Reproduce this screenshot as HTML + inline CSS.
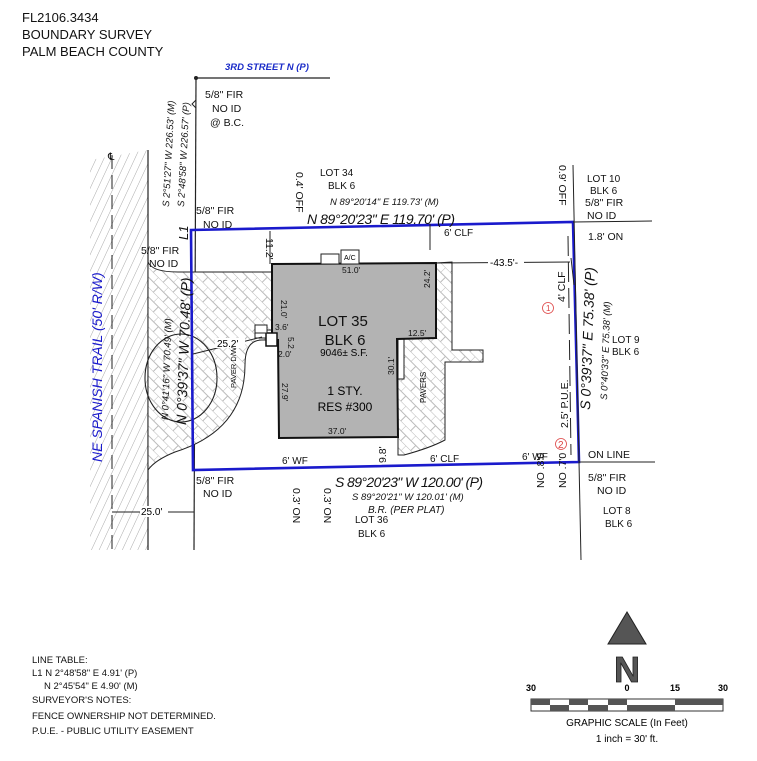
<!DOCTYPE html>
<html><head><meta charset="utf-8"><style>
html,body{margin:0;padding:0;background:#fff;}
svg{display:block;font-family:"Liberation Sans",Arial,sans-serif;}
</style></head><body>
<svg width="757" height="761" viewBox="0 0 757 761" xmlns="http://www.w3.org/2000/svg">
<defs>
<pattern id="diag" width="7" height="7" patternUnits="userSpaceOnUse" patternTransform="rotate(25)">
<line x1="0" y1="0" x2="0" y2="7" stroke="#aaa" stroke-width="1"/>
</pattern>
<pattern id="brick" width="14" height="14" patternUnits="userSpaceOnUse" patternTransform="rotate(45)">
<rect width="14" height="14" fill="#fff"/>
<path d="M0 0H14M0 7H14M0 0V7M7 7V14" stroke="#bbb" stroke-width="1" fill="none"/>
</pattern>
</defs>
<rect width="757" height="761" fill="#fff"/>

<g font-size="13" fill="#111">
<text x="22" y="22">FL2106.3434</text>
<text x="22" y="39">BOUNDARY SURVEY</text>
<text x="22" y="56">PALM BEACH COUNTY</text>
</g>
<text x="225" y="70" font-size="9.5" font-weight="bold" font-style="italic" fill="#1a2bc8">3RD STREET N (P)</text>
<line x1="196" y1="78" x2="330" y2="78" stroke="#222" stroke-width="1.2"/>
<circle cx="196" cy="78" r="2" fill="#222"/>

<path d="M90 160 L148 150 L148 550 L90 550 Z" fill="url(#diag)"/>
<line x1="148" y1="150" x2="148" y2="550" stroke="#222" stroke-width="1.2"/>
<line x1="112" y1="155" x2="112" y2="550" stroke="#222" stroke-width="1" stroke-dasharray="14 6"/>
<text x="108" y="160" font-size="10">℄</text>
<line x1="196" y1="78" x2="194" y2="550" stroke="#222" stroke-width="1.2"/>
<path d="M196 100 l-4 4 l4 4" fill="none" stroke="#222"/>

<path d="M148 262 Q152 272 178 272 L272 272 L272 330 L255 330 L255 338 L272 338 L272 340 L262 340 Q245 340 245 365 Q245 430 175 452 Q155 460 148 470 Z" fill="url(#brick)" stroke="#222" stroke-width="1"/>
<ellipse cx="181" cy="378" rx="36" ry="44" fill="none" stroke="#222" stroke-width="1.1"/>
<path d="M436 263 L452 262 L452 350 L483 350 L483 362 L445 362 L445 440 Q430 448 404 455 L398 455 L398 339 L436 338 Z" fill="url(#brick)" stroke="#222" stroke-width="1"/>
<rect x="398" y="339" width="6" height="40" fill="#fff" stroke="#222"/>

<path d="M272 264 L436 263 L436 338 L397 339 L398 437 L279 438 L278 340 L272 340 Z" fill="#b3b3b3" stroke="#111" stroke-width="2"/>
<rect x="321" y="254" width="18" height="10" fill="#fff" stroke="#222"/>
<rect x="341" y="250" width="18" height="14" fill="#fff" stroke="#222"/>
<text x="344" y="260" font-size="7">A/C</text>
<rect x="266" y="333" width="11" height="13" fill="#fff" stroke="#111" stroke-width="1.5"/>
<rect x="255" y="325" width="12" height="8" fill="#fff" stroke="#222"/>

<path d="M191 230 L573 222 L579 462 L193 470 Z" fill="none" stroke="#1a1acc" stroke-width="2.6"/>
<line x1="573" y1="165" x2="581" y2="560" stroke="#222" stroke-width="1"/>
<line x1="573" y1="222" x2="652" y2="221" stroke="#222"/>
<line x1="579" y1="462" x2="655" y2="462" stroke="#222"/>
<line x1="430" y1="224" x2="430" y2="250" stroke="#222"/>
<line x1="568" y1="236" x2="571" y2="455" stroke="#222" stroke-dasharray="20 6"/>
<line x1="571" y1="258" x2="574" y2="285" stroke="#222"/>

<line x1="436" y1="263" x2="570" y2="262" stroke="#222"/>
<rect x="488" y="257" width="36" height="10" fill="#fff"/>
<text x="490" y="266" font-size="10">-43.5'-</text>
<line x1="193" y1="354" x2="262" y2="337" stroke="#222"/>
<rect x="215" y="338" width="30" height="10" fill="#fff"/>
<text x="217" y="347" font-size="10">25.2'</text>
<line x1="112" y1="512" x2="194" y2="512" stroke="#222"/>
<rect x="140" y="506" width="28" height="11" fill="#fff"/>
<text x="141" y="515" font-size="10">25.0'</text>
<line x1="270" y1="231" x2="270" y2="264" stroke="#222"/>

<g font-size="10.5" fill="#111">
<text x="205" y="98">5/8"  FIR</text>
<text x="212" y="112">NO ID</text>
<text x="210" y="126">@ B.C.</text>
<text x="196" y="214">5/8"  FIR</text>
<text x="203" y="228">NO ID</text>
<text x="141" y="254">5/8" FIR</text>
<text x="149" y="267">NO ID</text>
<text x="320" y="176" font-size="10">LOT 34</text>
<text x="328" y="189" font-size="10">BLK 6</text>
<text x="587" y="182" font-size="10">LOT 10</text>
<text x="590" y="194" font-size="10">BLK 6</text>
<text x="585" y="206">5/8" FIR</text>
<text x="587" y="219">NO ID</text>
<text x="588" y="240">1.8' ON</text>
<text x="612" y="343" font-size="10">LOT 9</text>
<text x="612" y="355" font-size="10">BLK 6</text>
<text x="588" y="458">ON LINE</text>
<text x="588" y="481">5/8"  FIR</text>
<text x="597" y="494">NO ID</text>
<text x="603" y="514" font-size="10">LOT 8</text>
<text x="605" y="527" font-size="10">BLK 6</text>
<text x="196" y="484">5/8"  FIR</text>
<text x="203" y="497">NO ID</text>
<text x="355" y="523" font-size="10">LOT 36</text>
<text x="358" y="537" font-size="10">BLK 6</text>
<text x="444" y="236" font-size="10">6' CLF</text>
<text x="430" y="462" font-size="10">6' CLF</text>
<text x="522" y="460" font-size="10">6' WF</text>
<text x="282" y="464" font-size="10">6' WF</text>
</g>
<text x="307" y="224" font-size="14" font-style="italic" fill="#111" textLength="148">N 89°20'23" E  119.70' (P)</text>
<text x="330" y="205" font-size="9.5" font-style="italic" fill="#111">N 89°20'14" E  119.73' (M)</text>
<text x="335" y="487" font-size="14" font-style="italic" fill="#111" textLength="148">S 89°20'23" W  120.00' (P)</text>
<text x="352" y="500" font-size="9.5" font-style="italic" fill="#111">S 89°20'21" W  120.01' (M)</text>
<text x="368" y="513" font-size="10" font-style="italic" fill="#111">B.R. (PER PLAT)</text>

<g font-size="15" text-anchor="middle" fill="#111">
<text x="343" y="326">LOT 35</text>
<text x="345" y="345">BLK 6</text>
</g>
<text x="344" y="356" font-size="10" text-anchor="middle">9046± S.F.</text>
<text x="345" y="395" font-size="12" text-anchor="middle">1 STY.</text>
<text x="345" y="411" font-size="12" text-anchor="middle">RES #300</text>
<g font-size="8.5" fill="#111">
<text x="342" y="273">51.0'</text>
<text x="328" y="434">37.0'</text>
<text x="408" y="336">12.5'</text>
<text x="275" y="330">3.6'</text>
<text x="278" y="357">2.0'</text>
</g>
<g font-size="8.5" fill="#111">
<text transform="translate(281,300) rotate(90)">21.0'</text>
<text transform="translate(430,288) rotate(-90)">24.2'</text>
<text transform="translate(282,383) rotate(90)">27.9'</text>
<text transform="translate(394,375) rotate(-90)">30.1'</text>
<text transform="translate(288,337) rotate(90)">5.2</text>
<text transform="translate(426,403) rotate(-90)" font-size="8">PAVERS</text>
<text transform="translate(236,388) rotate(-90)" font-size="7.5">PAVER D/W</text>
</g>
<g font-size="10.5" fill="#111">
<text transform="translate(266,238) rotate(90)">11.2'</text>
<text transform="translate(296,172) rotate(90)">0.4' OFF</text>
<text transform="translate(559,165) rotate(90)">0.9' OFF</text>
<text transform="translate(293,488) rotate(90)">0.3' ON</text>
<text transform="translate(324,488) rotate(90)">0.3' ON</text>
<text transform="translate(544,488) rotate(-90)">NO .8'0</text>
<text transform="translate(566,488) rotate(-90)">NO .7'0</text>
<text transform="translate(386,463) rotate(-90)">9.8'</text>
<text transform="translate(565,302) rotate(-90)">4' CLF</text>
<text transform="translate(568,428) rotate(-90)">2.5' P.U.E.</text>
<text transform="translate(188,240) rotate(-90)" font-style="italic" font-size="13">L1</text>
</g>
<text transform="translate(590,410) rotate(-88)" font-size="14" font-style="italic" fill="#111">S 0°39'37" E  75.38' (P)</text>
<text transform="translate(607,400) rotate(-88)" font-size="9.5" font-style="italic" fill="#111">S 0°40'33" E  75.38' (M)</text>
<text transform="translate(186,425) rotate(-88)" font-size="14" font-style="italic" fill="#111">N 0°39'37" W  70.48' (P)</text>
<text transform="translate(168,420) rotate(-88)" font-size="9.5" font-style="italic" fill="#111">N 0°41'16" W  70.49' (M)</text>
<text transform="translate(169,207) rotate(-87)" font-size="9.5" font-style="italic" fill="#111">S 2°51'27" W  226.53' (M)</text>
<text transform="translate(184,207) rotate(-87)" font-size="9.5" font-style="italic" fill="#111">S 2°48'58" W  226.57' (P)</text>
<text transform="translate(102,462) rotate(-90)" font-size="14" font-style="italic" fill="#1a1acc">NE SPANISH TRAIL (50' R/W)</text>

<circle cx="548" cy="308" r="5.5" fill="none" stroke="#d44" stroke-width="0.8"/>
<text x="546" y="311" font-size="8" fill="#d44">1</text>
<circle cx="561" cy="444" r="5.5" fill="none" stroke="#d44" stroke-width="0.8"/>
<text x="558" y="448" font-size="10" fill="#d44">2</text>

<g font-size="9.5" fill="#111">
<text x="32" y="663">LINE TABLE:</text>
<text x="32" y="676">L1  N 2°48'58" E  4.91' (P)</text>
<text x="44" y="689">N 2°45'54" E  4.90' (M)</text>
<text x="32" y="703">SURVEYOR'S NOTES:</text>
<text x="32" y="719">FENCE OWNERSHIP NOT DETERMINED.</text>
<text x="32" y="734">P.U.E. - PUBLIC UTILITY EASEMENT</text>
</g>

<polygon points="627,612 608,644 646,644" fill="#555" stroke="#222"/>
<text x="627" y="682" font-size="36" font-weight="bold" text-anchor="middle" fill="#555" stroke="#222" stroke-width="0.8">N</text>

<g font-size="9" font-weight="bold" text-anchor="middle">
<text x="531" y="691">30</text><text x="627" y="691">0</text><text x="675" y="691">15</text><text x="723" y="691">30</text>
</g>
<rect x="531" y="699" width="192" height="12" fill="#fff" stroke="#333"/>
<g fill="#555">
<rect x="531" y="699" width="19" height="6"/><rect x="569" y="699" width="19" height="6"/><rect x="608" y="699" width="19" height="6"/>
<rect x="550" y="705" width="19" height="6"/><rect x="588" y="705" width="20" height="6"/>
<rect x="627" y="705" width="48" height="6"/><rect x="675" y="699" width="48" height="6"/>
</g>
<text x="627" y="726" font-size="10" text-anchor="middle">GRAPHIC SCALE (In Feet)</text>
<text x="627" y="742" font-size="10" text-anchor="middle">1 inch = 30' ft.</text>
</svg>
</body></html>
